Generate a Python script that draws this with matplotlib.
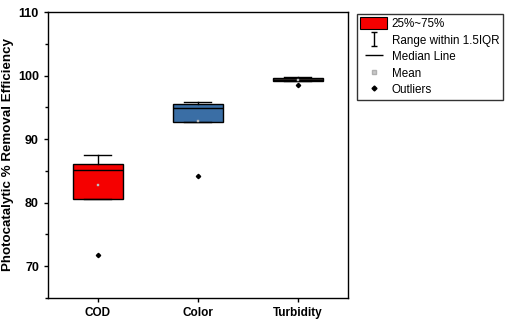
import matplotlib
matplotlib.use('Agg')
import matplotlib.pyplot as plt
from matplotlib.lines import Line2D
from matplotlib.patches import Patch
from matplotlib.path import Path
from matplotlib.ticker import MultipleLocator

plt.rcParams['font.family'] = ['Liberation Sans', 'DejaVu Sans']

# box statistics
labels = ['COD', 'Color', 'Turbidity']
q1 = [80.6, 92.65, 99.15]
med = [85.15, 94.9, 99.35]
q3 = [86.15, 95.6, 99.55]
whislo = [80.6, 92.65, 99.15]
whishi = [87.45, 95.9, 99.75]
means = [82.7, 92.9, 99.35]
outliers = [[71.7], [84.25], [98.45]]
box_colors = ['#f50000', '#3a6ea5', '#3b3330']

stats = []
for i in range(len(labels)):
    stats.append(dict(label=labels[i], q1=q1[i], med=med[i], q3=q3[i],
                      whislo=whislo[i], whishi=whishi[i], mean=means[i],
                      fliers=outliers[i]))

fig = plt.figure(figsize=(5.05, 3.27), dpi=100)
ax = fig.add_axes([0.095, 0.089, 0.594, 0.874])

bp = ax.bxp(stats, positions=[1, 2, 3], widths=0.5, patch_artist=True,
            showmeans=True, capwidths=0.27,
            boxprops=dict(edgecolor='black', linewidth=1.0),
            medianprops=dict(color='black', linewidth=1.0),
            whiskerprops=dict(color='black', linewidth=1.0),
            capprops=dict(color='black', linewidth=1.0),
            meanprops=dict(marker='s', markersize=2, markerfacecolor='#c8c8c8',
                           markeredgecolor='#b0b0b0', markeredgewidth=0.3),
            flierprops=dict(marker='D', markersize=2.2, markerfacecolor='black',
                            markeredgecolor='black'))
for patch, c in zip(bp['boxes'], box_colors):
    patch.set_facecolor(c)

ax.set_xlim(0.5, 3.5)
ax.set_ylim(65, 110)
ax.yaxis.set_major_locator(MultipleLocator(10))
ax.yaxis.set_minor_locator(MultipleLocator(5))
ax.tick_params(axis='both', which='major', direction='out', length=3, width=1,
               labelsize=9)
ax.tick_params(axis='x', labelsize=8.5)
ax.tick_params(axis='y', which='minor', direction='out', length=2, width=1)
for lab in ax.get_xticklabels() + ax.get_yticklabels():
    lab.set_fontweight('bold')
for sp in ax.spines.values():
    sp.set_linewidth(1.0)
ax.set_ylabel('Photocatalytic % Removal Efficiency', fontsize=9.6,
              fontweight='bold')
ax.yaxis.set_label_coords(-0.112, 0.5)

# I-shaped marker for the whisker entry
ibar = Path([(0, -1), (0, 1), (-0.5, 1), (0.5, 1), (-0.5, -1), (0.5, -1)],
            [Path.MOVETO, Path.LINETO, Path.MOVETO, Path.LINETO,
             Path.MOVETO, Path.LINETO])
handles = [
    Patch(facecolor=box_colors[0], edgecolor='black', linewidth=0.8),
    Line2D([], [], linestyle='none', marker=ibar, markersize=9.5,
           markerfacecolor='none', markeredgecolor='black', markeredgewidth=1),
    Line2D([], [], linestyle='none', marker='_', markersize=13,
           markeredgecolor='black', markeredgewidth=1),
    Line2D([], [], linestyle='none', marker='s', markersize=2.5,
           markerfacecolor='#c8c8c8', markeredgecolor='#b0b0b0'),
    Line2D([], [], linestyle='none', marker='D', markersize=2.5,
           markerfacecolor='black', markeredgecolor='black'),
]
leg_labels = ['25%~75%', 'Range within 1.5IQR', 'Median Line', 'Mean', 'Outliers']
leg = fig.legend(handles, leg_labels, loc='upper left',
                 bbox_to_anchor=(0.706, 0.958), fontsize=8.4, frameon=True,
                 fancybox=False, edgecolor='black', borderpad=0.32,
                 labelspacing=0.3, handlelength=2.3, handleheight=1.2,
                 handletextpad=0.4, borderaxespad=0)
leg.get_frame().set_linewidth(1.0)

fig.savefig('out.png', dpi=100)
